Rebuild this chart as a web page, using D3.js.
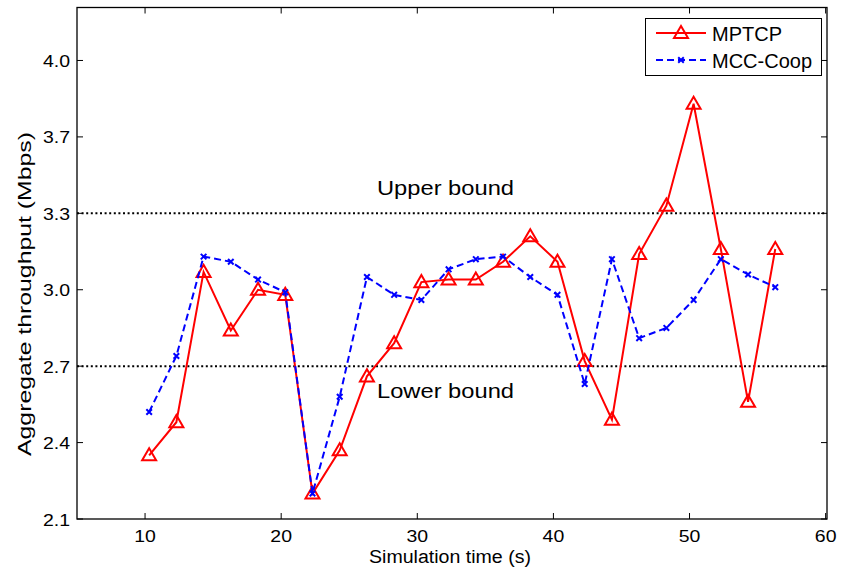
<!DOCTYPE html>
<html>
<head>
<meta charset="utf-8">
<script src="https://cdn.jsdelivr.net/npm/d3@7"></script>
<style>
  html, body { margin: 0; padding: 0; background: #fff; }
  svg text { font-family: "Liberation Sans", Arial, sans-serif; fill: #000; }
</style>
</head>
<body>
<svg id="chart" width="843" height="580"></svg>
<script>
// Simulation time samples (s)
const times = [10.3, 12.3, 14.3, 16.3, 18.3, 20.3, 22.3, 24.3, 26.3, 28.3, 30.3, 32.3,
               34.3, 36.3, 38.3, 40.3, 42.3, 44.3, 46.3, 48.3, 50.3, 52.3, 54.3, 56.3];

// Aggregate throughput (Mbps) per scheme
const mptcp = [2.35, 2.48, 3.07, 2.84, 3.00, 2.98, 2.20, 2.37, 2.66, 2.79, 3.03, 3.04,
               3.04, 3.11, 3.21, 3.11, 2.72, 2.49, 3.14, 3.33, 3.73, 3.16, 2.56, 3.16];
const mccCoop = [2.52, 2.74, 3.13, 3.11, 3.04, 2.99, 2.20, 2.58, 3.05, 2.98, 2.96, 3.08,
                 3.12, 3.13, 3.05, 2.98, 2.63, 3.12, 2.81, 2.85, 2.96, 3.12, 3.06, 3.01];

// Reference throughput bounds
const bounds = [{ label: "Upper bound", value: 3.3 }, { label: "Lower bound", value: 2.7 }];

// Axis ticks
const xTicks = [10, 20, 30, 40, 50, 60];
const yTicks = [2.1, 2.4, 2.7, 3.0, 3.3, 3.6, 3.9];
const yTickLabels = ["2.1", "2.4", "2.7", "3.0", "3.3", "3.7", "4.0"];

const svg = d3.select("#chart");
const m = { left: 77, right: 16, top: 7.5, bottom: 61 };
const W = 843, H = 580;
const iw = W - m.left - m.right, ih = H - m.top - m.bottom;

const x = d3.scaleLinear().domain([5, 60.1]).range([m.left, m.left + iw]);
const y = d3.scaleLinear().domain([2.1, 4.108]).range([m.top + ih, m.top]);

const g = svg.append("g");

// Frame
g.append("rect")
  .attr("x", m.left).attr("y", m.top).attr("width", iw).attr("height", ih)
  .attr("fill", "none").attr("stroke", "#000").attr("stroke-width", 1.3);

// Ticks on all four sides, pointing inward; labels widened slightly
const tl = 6;
const tickFont = 16.5, tickStretch = 1.18;
xTicks.forEach(t => {
  const px = x(t);
  g.append("line").attr("x1", px).attr("x2", px).attr("y1", m.top + ih).attr("y2", m.top + ih - tl)
    .attr("stroke", "#000").attr("stroke-width", 1);
  g.append("line").attr("x1", px).attr("x2", px).attr("y1", m.top).attr("y2", m.top + tl)
    .attr("stroke", "#000").attr("stroke-width", 1);
  g.append("text")
    .attr("transform", `translate(${px},542) scale(${tickStretch},1)`)
    .attr("text-anchor", "middle").attr("font-size", tickFont).text(t);
});
yTicks.forEach((t, i) => {
  const py = y(t);
  g.append("line").attr("x1", m.left).attr("x2", m.left + tl).attr("y1", py).attr("y2", py)
    .attr("stroke", "#000").attr("stroke-width", 1);
  g.append("line").attr("x1", m.left + iw).attr("x2", m.left + iw - tl).attr("y1", py).attr("y2", py)
    .attr("stroke", "#000").attr("stroke-width", 1);
  g.append("text")
    .attr("transform", `translate(70,${py + 6.5}) scale(${tickStretch},1)`)
    .attr("text-anchor", "end").attr("font-size", tickFont).text(yTickLabels[i]);
});

// Axis titles
g.append("text").attr("x", 450).attr("y", 562.5)
  .attr("text-anchor", "middle").attr("font-size", 18)
  .attr("textLength", 162).attr("lengthAdjust", "spacingAndGlyphs")
  .text("Simulation time (s)");
g.append("text").attr("transform", "translate(31, 294) rotate(-90)")
  .attr("text-anchor", "middle").attr("font-size", 17.5)
  .attr("textLength", 324).attr("lengthAdjust", "spacingAndGlyphs")
  .text("Aggregate throughput (Mbps)");

// Bound lines with their captions
bounds.forEach((b, i) => {
  g.append("line")
    .attr("x1", m.left).attr("x2", m.left + iw)
    .attr("y1", y(b.value)).attr("y2", y(b.value))
    .attr("stroke", "#000").attr("stroke-width", 2).attr("stroke-dasharray", "2,2.6");
  g.append("text")
    .attr("x", 377).attr("y", i === 0 ? y(b.value) - 18 : y(b.value) + 32)
    .attr("font-size", 21).attr("textLength", 137).attr("lengthAdjust", "spacingAndGlyphs")
    .text(b.label);
});

const line = d3.line().x((d, i) => x(times[i])).y(d => y(d));

// MPTCP series
g.append("path").datum(mptcp).attr("d", line)
  .attr("fill", "none").attr("stroke", "#ff0000").attr("stroke-width", 2);
const tri = d3.symbol().type(d3.symbolTriangle).size(85);
g.selectAll(".tri").data(mptcp).enter().append("path")
  .attr("transform", (d, i) => `translate(${x(times[i])},${y(d) + 1})`)
  .attr("d", tri).attr("fill", "none").attr("stroke", "#ff0000").attr("stroke-width", 2);

// MCC-Coop series
g.append("path").datum(mccCoop).attr("d", line)
  .attr("fill", "none").attr("stroke", "#0000ff").attr("stroke-width", 2)
  .attr("stroke-dasharray", "7,4");
const cross = d3.symbol().type(d3.symbolTimes).size(22);
g.selectAll(".crs").data(mccCoop).enter().append("path")
  .attr("transform", (d, i) => `translate(${x(times[i])},${y(d)})`)
  .attr("d", cross).attr("fill", "none").attr("stroke", "#0000ff").attr("stroke-width", 2);

// Legend
const lg = g.append("g");
lg.append("rect").attr("x", 645.5).attr("y", 18.5).attr("width", 176).attr("height", 57)
  .attr("fill", "#fff").attr("stroke", "#000").attr("stroke-width", 1);
lg.append("line").attr("x1", 656).attr("x2", 706).attr("y1", 33).attr("y2", 33)
  .attr("stroke", "#ff0000").attr("stroke-width", 2);
lg.append("path").attr("transform", "translate(681,34)").attr("d", tri)
  .attr("fill", "none").attr("stroke", "#ff0000").attr("stroke-width", 2);
lg.append("text").attr("x", 712).attr("y", 41).attr("font-size", 20).text("MPTCP");
lg.append("line").attr("x1", 656).attr("x2", 706).attr("y1", 60).attr("y2", 60)
  .attr("stroke", "#0000ff").attr("stroke-width", 2).attr("stroke-dasharray", "7,4");
lg.append("path").attr("transform", "translate(681,60)").attr("d", cross)
  .attr("fill", "none").attr("stroke", "#0000ff").attr("stroke-width", 2);
lg.append("text").attr("x", 712).attr("y", 68).attr("font-size", 20).text("MCC-Coop");
</script>
</body>
</html>
